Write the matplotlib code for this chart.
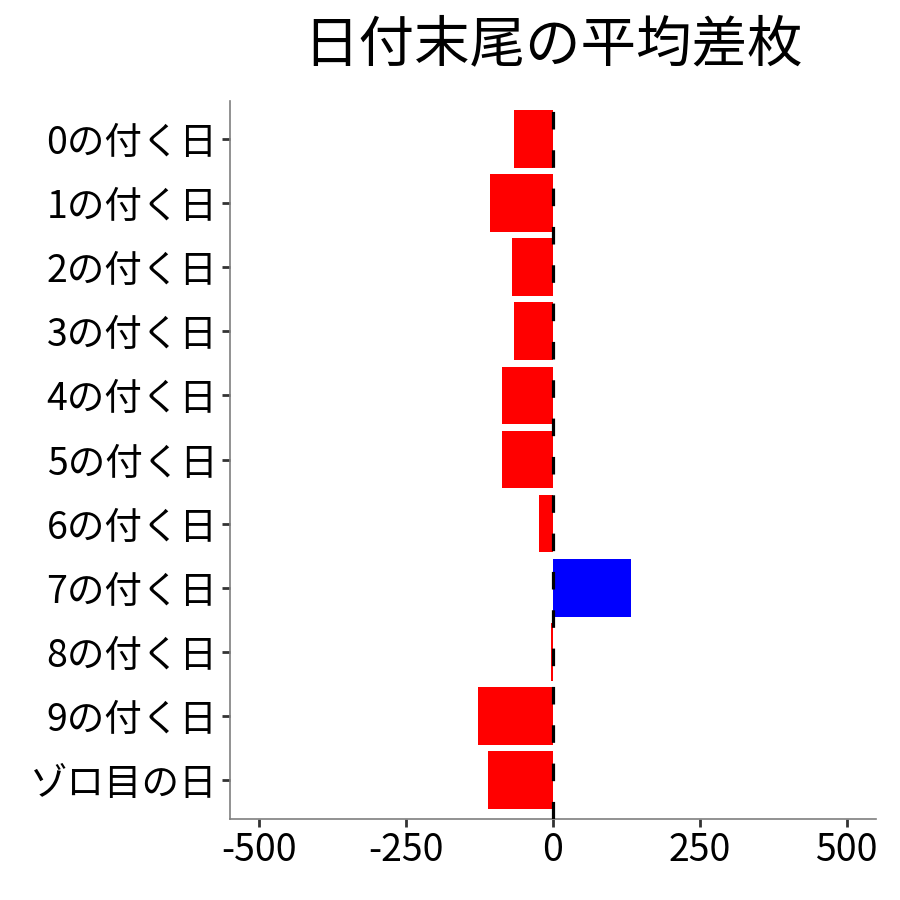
import matplotlib
matplotlib.use("Agg")
import matplotlib.pyplot as plt

plt.rcParams['font.family'] = ['Noto Sans CJK JP', 'DejaVu Sans']

categories = ["0の付く日", "1の付く日", "2の付く日", "3の付く日", "4の付く日",
              "5の付く日", "6の付く日", "7の付く日", "8の付く日", "9の付く日", "ゾロ目の日"]
values = [-66, -107, -70, -66, -87, -87, -24, 133, -3, -128, -111]
xticks = [-500, -250, 0, 250, 500]
title = "日付末尾の平均差枚"

fig = plt.figure(figsize=(9, 9), dpi=100)
ax = fig.add_axes([230/900, 1-818.5/900, (876-230)/900, (818.5-100.5)/900])

n = len(categories)
ypos = list(range(n, 0, -1))
colors = ["#0000FF" if v > 0 else "#FF0000" for v in values]
ax.barh(ypos, values, height=0.9, color=colors, zorder=2)
ax.axvline(0, color="black", linewidth=2.3, linestyle=(0, (5.5, 6.5)), zorder=3)

ax.set_xlim(-550, 550)
ax.set_ylim(0.4, n + 0.6)
ax.set_yticks(ypos)
ax.set_yticklabels(categories, fontsize=27)
ax.set_xticks(xticks)
ax.set_xticklabels([str(t) for t in xticks], fontsize=27)

for s in ["top", "right"]:
    ax.spines[s].set_visible(False)
for s in ["left", "bottom"]:
    ax.spines[s].set_color("#7f7f7f")
    ax.spines[s].set_linewidth(1.2)
ax.tick_params(axis="both", length=6, width=2, color="#333333", labelcolor="black", pad=3)

fig.text(553/900, 1-45/900, title, fontsize=40, ha="center", va="center")

fig.savefig("out.png", dpi=100, facecolor="white")
